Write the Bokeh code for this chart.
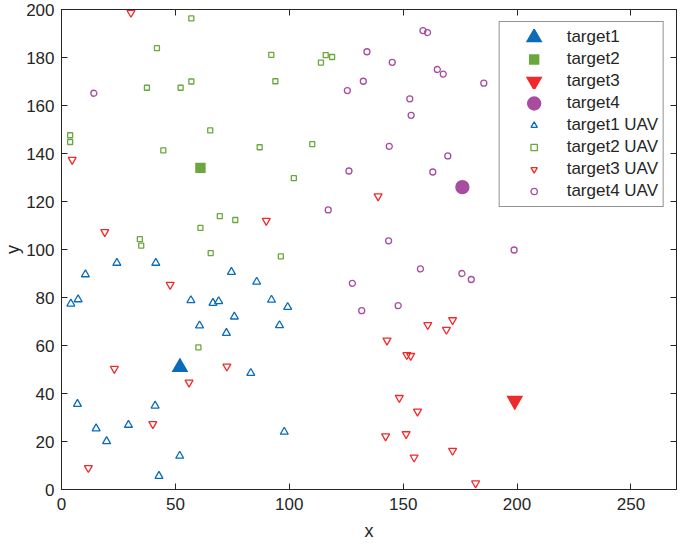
from bokeh.plotting import figure
from bokeh.models import Range1d, LinearAxis, FixedTicker, CustomJSTickFormatter, Legend, LegendItem
from bokeh.embed import file_html
from bokeh.resources import INLINE

# ---- data ----
target1 = (52, 51)
target2 = (61, 134)
target3 = (199, 37)
target4 = (176, 126)

t1_uav_x = [4.1, 7.3, 10.5, 24.3, 41.4, 56.8, 60.6, 66.5, 69.0, 74.6, 75.9, 72.4, 85.7, 92.2, 99.3,
            95.7, 83.1, 97.8, 7.0, 15.2, 19.8, 29.4, 41.1, 51.9, 42.8]
t1_uav_y = [77.4, 79.2, 89.6, 94.4, 94.4, 78.8, 68.3, 77.7, 78.4, 90.6, 72.0, 65.2, 86.5, 79.0, 76.0,
            68.4, 48.5, 24.0, 35.6, 25.4, 20.1, 26.9, 34.9, 14.0, 5.6]

t2_uav_x = [57.0, 41.9, 37.5, 52.3, 57.0, 3.8, 3.8, 44.7, 65.3, 92.1, 93.9, 116.0, 118.8, 113.9, 87.0,
            110.1, 102.0, 34.4, 35.0, 61.0, 65.5, 69.5, 76.3, 96.3, 60.1]
t2_uav_y = [196.3, 183.9, 167.4, 167.4, 170.0, 147.6, 144.8, 141.3, 149.6, 181.1, 170.1, 181.0, 180.2, 177.9, 142.6,
            143.9, 129.7, 104.3, 101.6, 109.0, 98.5, 113.9, 112.3, 97.1, 59.2]

t3_uav_x = [30.5, 4.7, 19.0, 47.7, 23.2, 56.0, 72.6, 40.1, 11.8, 89.9, 139.0, 160.8, 171.7, 169.0, 142.9,
            151.6, 153.3, 148.3, 156.3, 142.3, 151.3, 154.8, 171.7, 181.8]
t3_uav_y = [198.7, 137.4, 107.3, 85.3, 50.3, 44.6, 51.3, 27.3, 9.0, 112.0, 122.2, 68.6, 70.6, 66.6, 62.1,
            56.1, 55.7, 38.2, 32.5, 22.2, 23.1, 13.4, 16.2, 2.6]

t4_uav_x = [14.2, 158.7, 160.7, 134.1, 145.2, 165.0, 167.6, 132.5, 125.5, 152.9, 153.5, 143.9, 169.6, 126.2, 163.0,
            185.4, 117.1, 143.6, 157.6, 175.8, 127.7, 147.8, 131.8, 198.7, 179.9]
t4_uav_y = [165.1, 191.2, 190.4, 182.4, 178.0, 175.0, 173.1, 170.1, 166.2, 162.8, 155.9, 143.0, 139.0, 132.7, 132.3,
            169.3, 116.5, 103.6, 91.9, 90.0, 85.9, 76.6, 74.5, 99.8, 87.5]

x_ticks = [0, 50, 100, 150, 200, 250]
y_ticks = [0, 20, 40, 60, 80, 100, 120, 140, 160, 180, 200]

BLUE = "#0A6CB8"
GREEN = "#6AA83E"
RED = "#EE2A2A"
PURPLE = "#A84CA0"
AX = "#262626"
FONT = "Liberation Sans"

p = figure(width=677, height=545, output_backend="svg", toolbar_location=None,
           x_range=Range1d(0, 270), y_range=Range1d(0, 200),
           min_border_left=10, min_border_right=1, min_border_top=9, min_border_bottom=56)
p.grid.visible = False
p.outline_line_color = AX
p.background_fill_color = "white"

def style_axis(ax, ticks, labels=True):
    ax.ticker = FixedTicker(ticks=ticks)
    ax.minor_tick_line_color = None
    ax.major_tick_in = 6
    ax.major_tick_out = 0
    ax.axis_line_color = AX
    ax.major_tick_line_color = AX
    ax.major_label_text_color = AX
    ax.major_label_text_font = FONT
    ax.major_label_text_font_size = "17px"
    ax.major_label_standoff = 8
    ax.axis_label_text_font = FONT
    ax.axis_label_text_font_size = "18px"
    ax.axis_label_text_font_style = "normal"
    ax.axis_label_text_color = AX
    if not labels:
        ax.formatter = CustomJSTickFormatter(code="return ''")
        ax.major_label_standoff = 0
        ax.axis_label_standoff = 0
        ax.major_label_text_font_size = "0px"

style_axis(p.xaxis[0], x_ticks)
style_axis(p.yaxis[0], y_ticks)
p.xaxis.axis_label = "x"
p.yaxis.axis_label = "y"
p.xaxis.axis_label_standoff = 8
p.yaxis.axis_label_standoff = 0
p.yaxis.major_label_standoff = 7

top_ax = LinearAxis()
style_axis(top_ax, x_ticks, labels=False)
p.add_layout(top_ax, "above")
right_ax = LinearAxis()
style_axis(right_ax, y_ticks, labels=False)
p.add_layout(right_ax, "right")

# targets (size kept equal to the legend's marker size; outline width enlarges them)
r1 = p.scatter([target1[0]], [target1[1]], marker="triangle", size=6.4, fill_color=BLUE,
               line_color=BLUE, line_width=6, line_join="miter")
r2 = p.scatter([target2[0]], [target2[1]], marker="square", size=6.4, fill_color=GREEN,
               line_color=GREEN, line_width=4, line_join="miter")
r3 = p.scatter([target3[0]], [target3[1]], marker="inverted_triangle", size=6.4, fill_color=RED,
               line_color=RED, line_width=6, line_join="miter")
r4 = p.scatter([target4[0]], [target4[1]], marker="circle", size=6.4, fill_color=PURPLE,
               line_color=PURPLE, line_width=8)

# UAVs
u1 = p.scatter(t1_uav_x, t1_uav_y, marker="triangle", size=8, fill_color=None, line_color=BLUE, line_width=1.3)
u2 = p.scatter(t2_uav_x, t2_uav_y, marker="square", size=5, fill_color=None, line_color=GREEN, line_width=1.3)
u3 = p.scatter(t3_uav_x, t3_uav_y, marker="inverted_triangle", size=8, fill_color=None, line_color=RED, line_width=1.3)
u4 = p.scatter(t4_uav_x, t4_uav_y, marker="circle", size=6, fill_color=None, line_color=PURPLE, line_width=1.3)

legend = Legend(items=[
    LegendItem(label="target1", renderers=[r1]),
    LegendItem(label="target2", renderers=[r2]),
    LegendItem(label="target3", renderers=[r3]),
    LegendItem(label="target4", renderers=[r4]),
    LegendItem(label="target1 UAV", renderers=[u1]),
    LegendItem(label="target2 UAV", renderers=[u2]),
    LegendItem(label="target3 UAV", renderers=[u3]),
    LegendItem(label="target4 UAV", renderers=[u4]),
], location="top_right")
legend.margin = 12
legend.padding = 5
legend.spacing = 2
legend.glyph_height = 16
legend.label_height = 20
legend.glyph_width = 58
legend.label_standoff = 4
legend.label_text_font = FONT
legend.label_text_font_size = "17px"
legend.label_text_color = AX
legend.border_line_color = AX
legend.border_line_width = 1
legend.background_fill_color = "white"
legend.background_fill_alpha = 1
p.add_layout(legend, "center")

open("out.html", "w").write(file_html(p, INLINE))
